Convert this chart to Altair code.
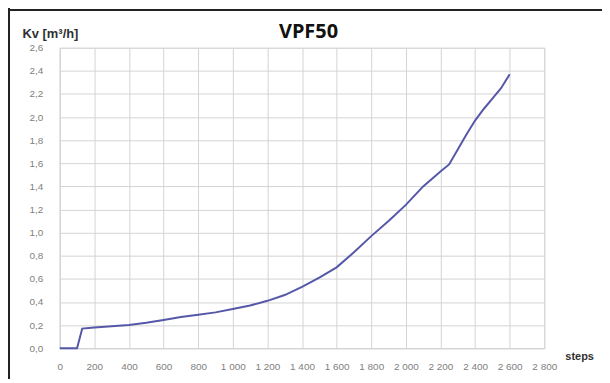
import altair as alt
import pandas as pd

steps = [0, 100, 130, 200, 300, 400, 500, 600, 700, 800, 900, 1000, 1100, 1200, 1300,
         1400, 1500, 1600, 1700, 1800, 1900, 2000, 2100, 2200, 2250, 2300, 2350, 2400,
         2450, 2500, 2550, 2600]
kv = [0.0, 0.0, 0.17, 0.18, 0.19, 0.20, 0.22, 0.245, 0.27, 0.29, 0.31, 0.34, 0.37, 0.41, 0.46,
      0.53, 0.61, 0.70, 0.83, 0.97, 1.10, 1.24, 1.40, 1.53, 1.59, 1.72, 1.85, 1.97,
      2.07, 2.16, 2.25, 2.37]
x_ticks = list(range(0, 2801, 200))
y_ticks = [round(i * 0.2, 1) for i in range(14)]
chart_title = "VPF50"

df = pd.DataFrame({"steps": steps, "kv": kv})
tdf = pd.DataFrame({"t": [chart_title]})

grid = "#d4d4d4"
lab = "#808080"

line = alt.Chart(df).mark_line(color="#5558a8", strokeWidth=2).encode(
    x=alt.X("steps:Q",
            scale=alt.Scale(domain=[0, 2800], nice=False, zero=True),
            axis=alt.Axis(values=x_ticks, title="steps", ticks=False,
                          labelExpr="replace(format(datum.value, ','), ',', ' ')",
                          labelPadding=13, labelFontSize=10, labelColor=lab,
                          labelFont="Liberation Sans", labelFlush=False,
                          gridColor=grid, domainColor=grid,
                          titleFont="Liberation Sans", titleFontSize=11, titleFontWeight="bold",
                          titleColor="#303030", titleX=522, titleY=8, titleBaseline="middle",
                          titleAlign="center")),
    y=alt.Y("kv:Q",
            scale=alt.Scale(domain=[0, 2.6], nice=False),
            axis=alt.Axis(values=y_ticks, title="Kv [m³/h]", ticks=False,
                          labelExpr="replace(format(datum.value, '.1f'), '.', ',')",
                          labelPadding=17, labelFontSize=10, labelColor=lab,
                          labelFont="Liberation Sans",
                          gridColor=grid, domainColor=grid,
                          titleAngle=0, titleX=-38, titleY=-14, titleAlign="left",
                          titleBaseline="middle", titleFont="Liberation Sans",
                          titleFontSize=13, titleFontWeight="bold", titleColor="#303030")),
)

title = alt.Chart(tdf).mark_text(fontSize=20, fontWeight="bold", font="Open Sans",
                                 color="#111111", align="center",
                                 baseline="alphabetic").encode(
    text="t:N", x=alt.value(250), y=alt.value(-10))

border_left = alt.Chart(df).mark_rule(color="#222222", strokeWidth=2).encode(
    x=alt.value(-51), y=alt.value(-40), y2=alt.value(400))
border_top = alt.Chart(df).mark_rule(color="#222222", strokeWidth=2).encode(
    y=alt.value(-38), x=alt.value(-60), x2=alt.value(700))

chart = alt.layer(line, title, border_left, border_top).properties(
    width=487, height=302,
    autosize=alt.AutoSizeParams(type="none"),
    padding={"left": 52, "top": 39, "right": 58, "bottom": 30},
).configure_view(stroke=None).configure(background="white")

chart.save("out.html", embed_options={"renderer": "svg", "actions": False})
